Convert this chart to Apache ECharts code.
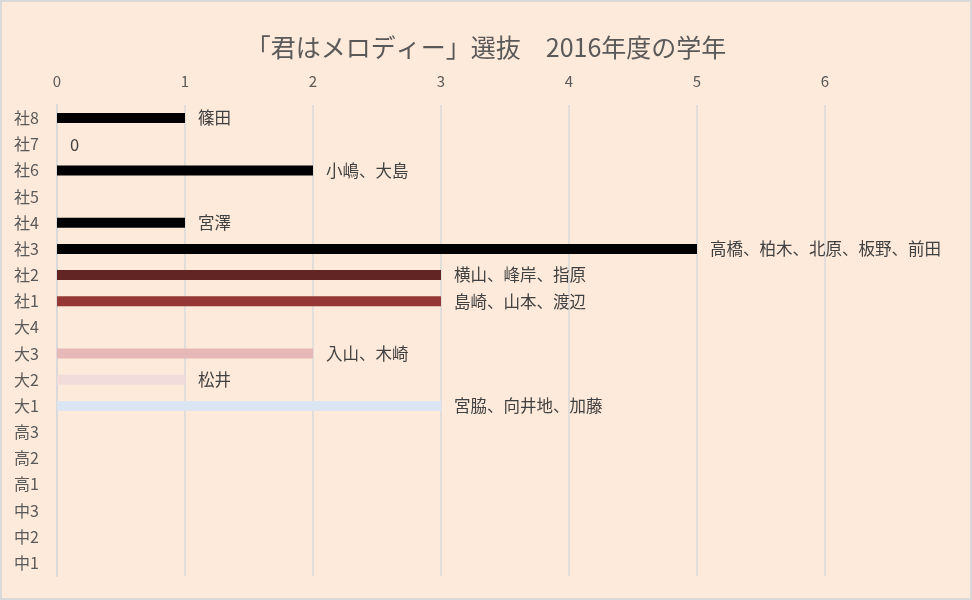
<!DOCTYPE html>
<html>
<head>
<meta charset="utf-8">
<script src="https://cdn.jsdelivr.net/npm/echarts@6/dist/echarts.min.js"></script>
<style>
  html, body { margin: 0; padding: 0; background: #fdeada; }
  #chart { width: 972px; height: 600px; }
</style>
</head>
<body>
<div id="chart"></div>
<script>
// categories top to bottom
var grades = ['社8', '社7', '社6', '社5', '社4', '社3', '社2', '社1', '大4', '大3', '大2', '大1', '高3', '高2', '高1', '中3', '中2', '中1'];
var counts = [1, 0, 2, null, 1, 5, 3, 3, null, 2, 1, 3, null, null, null, null, null, null];
var members = ['篠田', '', '小嶋、大島', '', '宮澤', '高橋、柏木、北原、板野、前田', '横山、峰岸、指原', '島崎、山本、渡辺', '', '入山、木崎', '松井', '宮脇、向井地、加藤', '', '', '', '', '', ''];
var barColors = ['#000000', '#000000', '#000000', '#000000', '#000000', '#000000', '#632523', '#953735', '#e6b9b8', '#e6b9b8', '#f2dcdb', '#dce6f2', '#dce6f2', '#dce6f2', '#dce6f2', '#dce6f2', '#dce6f2', '#dce6f2'];
var xTicks = [0, 1, 2, 3, 4, 5, 6];

var chart = echarts.init(document.getElementById('chart'));
var font = '"Noto Sans CJK JP", "Noto Sans", sans-serif';

var option = {
  backgroundColor: '#fdeada',
  animation: false,
  textStyle: { fontFamily: font },
  title: {
    text: '「君はメロディー」選抜　2016年度の学年',
    left: 'center',
    top: 30,
    textStyle: { fontFamily: font, fontSize: 25, fontWeight: 'normal', color: '#595959' }
  },
  graphic: [{
    type: 'rect',
    shape: { x: 1, y: 1, width: 970, height: 598 },
    style: { fill: 'transparent', stroke: '#d9d9d9', lineWidth: 2 },
    silent: true
  }],
  grid: { left: 57, right: 147, top: 105, bottom: 24 },
  xAxis: {
    type: 'value',
    position: 'top',
    min: xTicks[0],
    max: xTicks[xTicks.length - 1],
    interval: 1,
    axisLine: { show: false },
    axisTick: { show: false },
    axisLabel: { color: '#595959', fontSize: 15, margin: 16, fontFamily: font },
    splitLine: { lineStyle: { color: '#d9d9d9', width: 1.5 } }
  },
  yAxis: {
    type: 'category',
    inverse: true,
    data: grades,
    axisLine: { show: true, lineStyle: { color: '#d9d9d9', width: 2 } },
    axisTick: { show: false },
    axisLabel: { color: '#595959', fontSize: 16, margin: 18, fontFamily: font }
  },
  series: [{
    type: 'bar',
    barWidth: 10,
    data: counts.map(function (v, i) {
      return { value: v, itemStyle: { color: barColors[i] } };
    }),
    label: {
      show: true,
      position: 'right',
      distance: 13,
      color: '#404040',
      fontSize: 16.5,
      fontFamily: font,
      formatter: function (p) {
        if (p.value == null) return '';
        return members[p.dataIndex] || String(p.value);
      }
    }
  }]
};

chart.setOption(option);
</script>
</body>
</html>
